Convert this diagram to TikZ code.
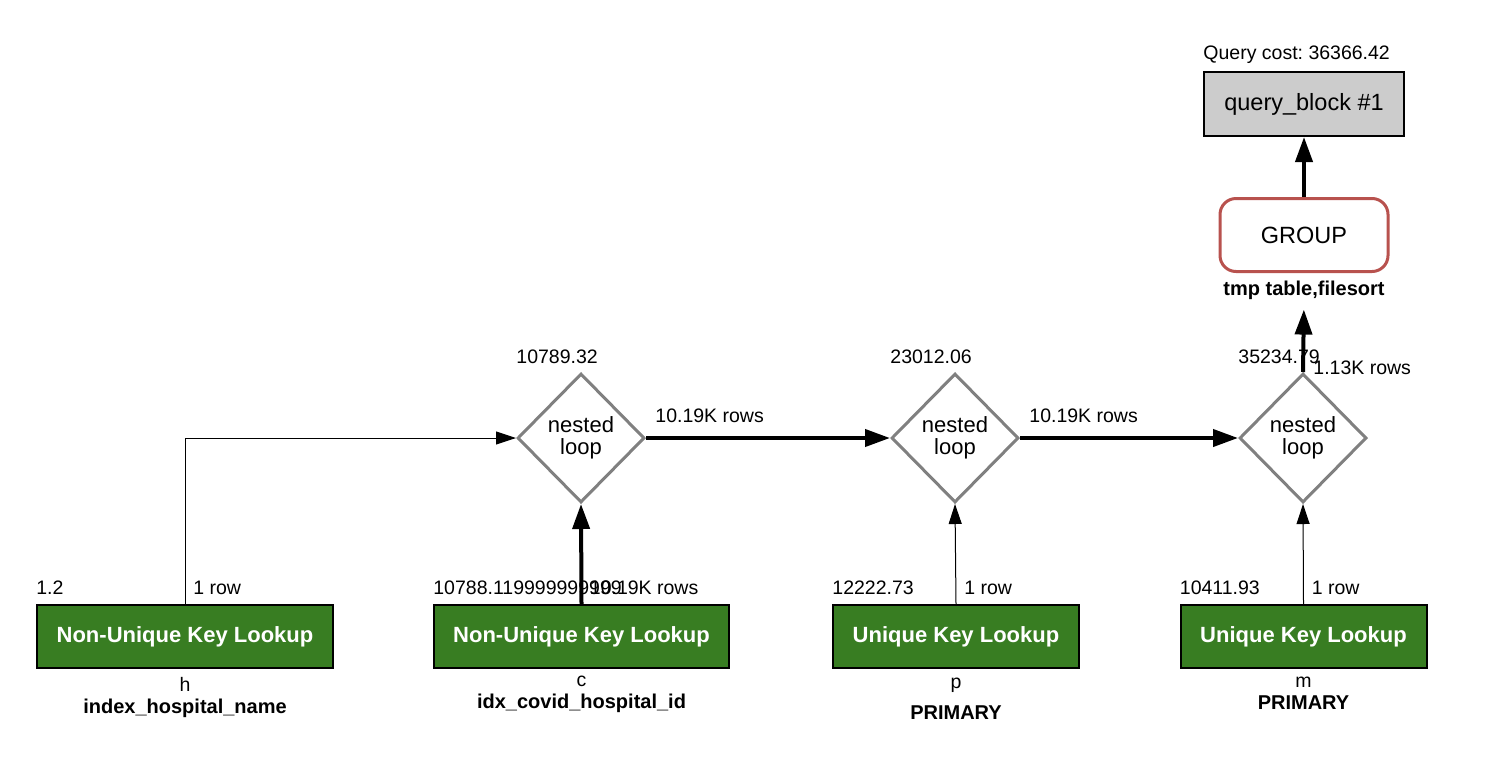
\documentclass[tikz,border=0pt]{standalone}
\usepackage{fontspec}
\setmainfont{Liberation Sans}
\frenchspacing
\usetikzlibrary{shapes,shapes.geometric,arrows.meta,calc,positioning}
\definecolor{keygreen}{RGB}{56,125,34}
\definecolor{grpred}{RGB}{184,82,78}
\definecolor{qgray}{RGB}{204,204,204}
\tikzset{access/.style={draw=black, line width=1pt, fill=keygreen, text=white, minimum height=31.5pt, inner sep=0pt, font=\fontsize{11}{13}\selectfont\bfseries}}
\tikzstyle{nloop}=[diamond, draw=gray, line width=1.5pt, minimum width=63.5pt, minimum height=64.5pt, inner sep=0pt, align=center, font=\fontsize{11}{11}\selectfont]
\tikzstyle{lbl}=[inner sep=0pt, font=\fontsize{9.75}{11}\selectfont]
\tikzstyle{blbl}=[inner sep=0pt, font=\fontsize{10}{12}\selectfont\bfseries]
\tikzstyle{flow}=[line width=0.5pt, ->]
\tikzstyle{bigflow}=[line width=2pt, -{Triangle[length=12.5pt,width=8.5pt]}]

\begin{document}
\begin{tikzpicture}[x=0.5pt, y=-0.5pt, >={Triangle[length=10pt,width=6.5pt]}]
\useasboundingbox (0,0) rectangle (1498,756);
% table access
\node[access, minimum width=148pt] (h) at (185,636.5) {Non-Unique Key Lookup};
\node[access, minimum width=147.5pt] (c) at (581.5,636.5) {Non-Unique Key Lookup};
\node[access, minimum width=123pt] (p) at (956,636.5) {Unique Key Lookup};
\node[access, minimum width=123pt] (m) at (1303.5,636.5) {Unique Key Lookup};
% joins
\node[nloop] (d1) at (581,438) {nested\\loop};
\node[nloop] (d2) at (955,438) {nested\\loop};
\node[nloop] (d3) at (1303,438) {nested\\loop};
% grouping and query block
\node[draw=grpred, line width=1.5pt, rounded corners=8pt, minimum width=84pt, minimum height=36.5pt, font=\fontsize{11.75}{13}\selectfont] (grp) at (1304,235) {GROUP};
\node[blbl, anchor=base, yshift=-11pt] (grpnote) at (grp.south) {tmp table,filesort};
\node[draw=black, line width=1pt, fill=qgray, minimum width=100pt, minimum height=32pt, font=\fontsize{11.75}{13}\selectfont] (qb) at (1304,104) {query\_block \#1};
\node[lbl, anchor=south west, yshift=3.5pt] (qcost) at (qb.north west) {Query cost: 36366.42};

% costs and rows
\node[lbl, anchor=south west, yshift=4.5pt] (hcost) at (h.north west) {1.2};
\node[lbl, anchor=south west, yshift=4.5pt] (ccost) at (c.north west) {10788.119999999999};
\node[lbl, anchor=south west, yshift=4.5pt] (pcost) at (p.north west) {12222.73};
\node[lbl, anchor=south west, yshift=4.5pt] (mcost) at (m.north west) {10411.93};
\node[lbl, anchor=south west, xshift=4pt, yshift=4.5pt] (hrows) at (h.north) {1 row};
\node[lbl, anchor=south west, xshift=4pt, yshift=4.5pt] (crows) at (c.north) {10.19K rows};
\node[lbl, anchor=south west, xshift=4pt, yshift=4.5pt] (prows) at (p.north) {1 row};
\node[lbl, anchor=south west, xshift=4pt, yshift=4.5pt] (mrows) at (m.north) {1 row};
\node[lbl, anchor=south west, yshift=4pt] (d1cost) at (d1.west |- d1.north) {10789.32};
\node[lbl, anchor=south west, yshift=4pt] (d2cost) at (d2.west |- d2.north) {23012.06};
\node[lbl, anchor=south west, yshift=4pt] (d3cost) at (d3.west |- d3.north) {35234.79};
\node[lbl, anchor=south west, xshift=4.5pt, yshift=7.5pt] (d1rows) at (d1.east) {10.19K rows};
\node[lbl, anchor=south west, xshift=4.5pt, yshift=7.5pt] (d2rows) at (d2.east) {10.19K rows};
\node[lbl, anchor=south west, xshift=5pt, yshift=-1.5pt] (d3rows) at (d3.north) {1.13K rows};

% table names and keys
\node[lbl, anchor=base, yshift=-11pt] (hname) at (h.south) {h};
\node[blbl, anchor=base, yshift=-22pt] (hkey) at (h.south) {index\_hospital\_name};
\node[lbl, anchor=base, yshift=-8.5pt] (cname) at (c.south) {c};
\node[blbl, anchor=base, yshift=-19.5pt] (ckey) at (c.south) {idx\_covid\_hospital\_id};
\node[lbl, anchor=base, yshift=-9.5pt] (pname) at (p.south) {p};
\node[blbl, anchor=base, yshift=-25pt] (pkey) at (p.south) {PRIMARY};
\node[lbl, anchor=base, yshift=-9pt] (mname) at (m.south) {m};
\node[blbl, anchor=base, yshift=-20pt] (mkey) at (m.south) {PRIMARY};

\draw[flow] (h.north) |- (d1.west);
\draw[bigflow] (c.north) -- (d1.south);
\draw[flow] (p.north) -- (d2.south);
\draw[flow] (m.north) -- (d3.south);
\draw[bigflow] (d1.east) -- (d2.west);
\draw[bigflow] (d2.east) -- (d3.west);
\draw[bigflow, shorten >=5pt] (d3.north) -- (grpnote.south);
\draw[bigflow] (grp.north) -- (qb.south);
\end{tikzpicture}
\end{document}
